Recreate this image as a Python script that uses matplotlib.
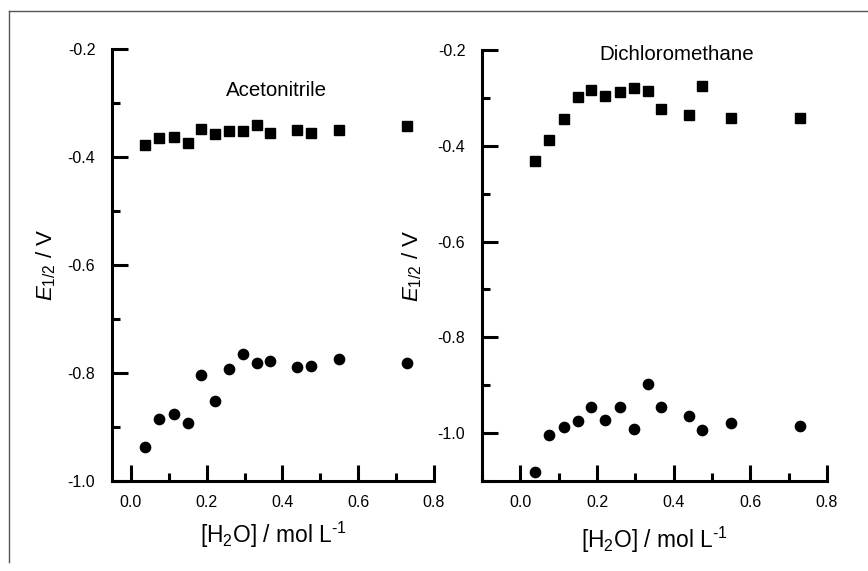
import matplotlib
matplotlib.use("Agg")
import matplotlib.pyplot as plt
from matplotlib.ticker import MultipleLocator, FormatStrFormatter
from matplotlib.lines import Line2D

plt.rcParams['font.family'] = ['Liberation Sans', 'DejaVu Sans']
plt.rcParams['mathtext.fontset'] = 'custom'
plt.rcParams['mathtext.rm'] = 'Liberation Sans'
plt.rcParams['mathtext.it'] = 'Liberation Sans:italic'
plt.rcParams['mathtext.bf'] = 'Liberation Sans:bold'

# Water concentration (mol/L)
h2o = [0.037, 0.075, 0.113, 0.150, 0.185, 0.222, 0.259, 0.296, 0.333, 0.368, 0.439, 0.475, 0.549, 0.729]

# Acetonitrile
acn_sq = [-0.378, -0.365, -0.363, -0.374, -0.348, -0.357, -0.352, -0.352, -0.341, -0.356, -0.350, -0.356, -0.350, -0.343]
acn_ci = [-0.937, -0.885, -0.876, -0.893, -0.804, -0.852, -0.793, -0.765, -0.781, -0.778, -0.789, -0.787, -0.774, -0.781]

# Dichloromethane
dcm_sq = [-0.432, -0.388, -0.345, -0.298, -0.284, -0.297, -0.287, -0.279, -0.286, -0.324, -0.335, -0.276, -0.342, -0.343]
dcm_ci = [-1.081, -1.003, -0.987, -0.975, -0.946, -0.973, -0.946, -0.992, -0.898, -0.946, -0.965, -0.994, -0.979, -0.986]

W, H = 868, 571
fig = plt.figure(figsize=(W / 100, H / 100), dpi=100)

# Partial frame (top and left edges)
fig.add_artist(Line2D([9 / W, 9 / W], [1 - 11 / H, 1 - 562 / H], transform=fig.transFigure,
                      color='#555555', lw=1.0))
fig.add_artist(Line2D([9 / W, 1.0], [1 - 11 / H, 1 - 11 / H], transform=fig.transFigure,
                      color='#555555', lw=1.0))

ax1 = fig.add_axes([112 / W, 1 - 481 / H, (434 - 112) / W, (481 - 49) / H])
ax2 = fig.add_axes([482 / W, 1 - 481 / H, (827 - 482) / W, (481 - 50) / H])

def style(ax, xlim, ylim):
    ax.set_xlim(*xlim)
    ax.set_ylim(*ylim)
    for s in ('top', 'right'):
        ax.spines[s].set_visible(False)
    for s in ('left', 'bottom'):
        ax.spines[s].set_linewidth(2.2)
    ax.xaxis.set_major_locator(MultipleLocator(0.2))
    ax.xaxis.set_minor_locator(MultipleLocator(0.1))
    ax.yaxis.set_major_locator(MultipleLocator(0.2))
    ax.yaxis.set_minor_locator(MultipleLocator(0.1))
    ax.tick_params(which='major', direction='in', length=11.5, width=2.2, labelsize=11.5,
                   colors='black')
    ax.tick_params(which='minor', direction='in', length=6, width=2.2)
    ax.tick_params(axis='y', which='major', pad=12)
    ax.tick_params(axis='x', which='major', pad=10)
    ax.xaxis.set_major_formatter(FormatStrFormatter('%.1f'))
    ax.yaxis.set_major_formatter(FormatStrFormatter('%.1f'))
    ax.patch.set_visible(False)

style(ax1, (-0.05, 0.8), (-1.0, -0.2))
style(ax2, (-0.1, 0.8), (-1.1, -0.2))

for ax, sq, ci in ((ax1, acn_sq, acn_ci), (ax2, dcm_sq, dcm_ci)):
    ax.plot(h2o, sq, ls='none', marker='s', ms=6.8, color='black', clip_on=False)
    ax.plot(h2o, ci, ls='none', marker='o', ms=7.4, color='black', clip_on=False)

ax1.set_xlabel(r'[H$_2$O] / mol L$^{\text{-1}}$', fontsize=16.4, labelpad=7)
ax2.set_xlabel(r'[H$_2$O] / mol L$^{\text{-1}}$', fontsize=16.4, labelpad=11)

ax1.set_ylabel(r'$E_{1/2}$ / V', fontsize=16, labelpad=7)
ax2.set_ylabel(r'$E_{1/2}$ / V', fontsize=16, labelpad=10)

fig.text(276 / W, 1 - 91 / H, 'Acetonitrile', fontsize=14.8, ha='center', va='center')
fig.text(677 / W, 1 - 54 / H, 'Dichloromethane', fontsize=14.8, ha='center', va='center')

fig.savefig('out.png', dpi=100)
